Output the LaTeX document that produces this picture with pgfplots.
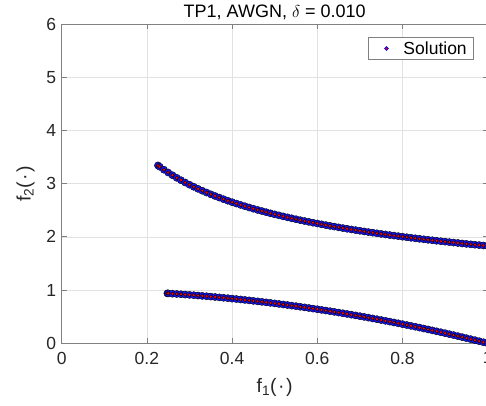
\documentclass[border=0pt]{standalone}
\usepackage{pgfplots}
\usepackage{pgfplotstable}
\pgfplotsset{compat=1.18}
\usepackage{fontspec}
\setmainfont{Liberation Sans}
\definecolor{axgray}{RGB}{128,128,128}
\definecolor{txt}{RGB}{38,38,38}
\definecolor{gridc}{RGB}{225,225,225}
\definecolor{bandblue}{RGB}{20,20,255}
\pgfplotstableread{
x y
0.226 3.342
0.23 3.318
0.24 3.262
0.25 3.209
0.26 3.158
0.27 3.110
0.28 3.065
0.29 3.021
0.30 2.980
0.31 2.941
0.32 2.903
0.33 2.867
0.34 2.833
0.35 2.800
0.36 2.768
0.37 2.738
0.38 2.708
0.39 2.679
0.40 2.652
0.41 2.626
0.42 2.600
0.43 2.576
0.44 2.552
0.45 2.529
0.46 2.506
0.47 2.485
0.48 2.464
0.49 2.443
0.50 2.423
0.51 2.404
0.52 2.385
0.53 2.367
0.54 2.349
0.55 2.331
0.56 2.314
0.57 2.298
0.58 2.282
0.59 2.266
0.60 2.251
0.61 2.236
0.62 2.221
0.63 2.206
0.64 2.193
0.65 2.179
0.66 2.165
0.67 2.152
0.68 2.139
0.69 2.127
0.70 2.115
0.71 2.102
0.72 2.090
0.73 2.079
0.74 2.067
0.75 2.056
0.76 2.045
0.77 2.034
0.78 2.024
0.79 2.013
0.80 2.003
0.81 1.993
0.82 1.983
0.83 1.973
0.84 1.964
0.85 1.954
0.86 1.945
0.87 1.936
0.88 1.927
0.89 1.918
0.90 1.910
0.91 1.901
0.92 1.893
0.93 1.885
0.94 1.876
0.95 1.868
0.96 1.860
0.97 1.853
0.98 1.845
0.99 1.838
1.00 1.830
}\upperdata
\pgfplotstableread{
x y
0.248 0.9385
0.25 0.9375
0.26 0.9324
0.27 0.9271
0.28 0.9216
0.29 0.9159
0.30 0.9100
0.31 0.9039
0.32 0.8976
0.33 0.8911
0.34 0.8844
0.35 0.8775
0.36 0.8704
0.37 0.8631
0.38 0.8556
0.39 0.8479
0.40 0.8400
0.41 0.8319
0.42 0.8236
0.43 0.8151
0.44 0.8064
0.45 0.7975
0.46 0.7884
0.47 0.7791
0.48 0.7696
0.49 0.7599
0.50 0.7500
0.51 0.7399
0.52 0.7296
0.53 0.7191
0.54 0.7084
0.55 0.6975
0.56 0.6864
0.57 0.6751
0.58 0.6636
0.59 0.6519
0.60 0.6400
0.61 0.6279
0.62 0.6156
0.63 0.6031
0.64 0.5904
0.65 0.5775
0.66 0.5644
0.67 0.5511
0.68 0.5376
0.69 0.5239
0.70 0.5100
0.71 0.4959
0.72 0.4816
0.73 0.4671
0.74 0.4524
0.75 0.4375
0.76 0.4224
0.77 0.4071
0.78 0.3916
0.79 0.3759
0.80 0.3600
0.81 0.3439
0.82 0.3276
0.83 0.3111
0.84 0.2944
0.85 0.2775
0.86 0.2604
0.87 0.2431
0.88 0.2256
0.89 0.2079
0.90 0.1900
0.91 0.1719
0.92 0.1536
0.93 0.1351
0.94 0.1164
0.95 0.0975
0.96 0.0784
0.97 0.0591
0.98 0.0396
0.99 0.0199
1.00 0.0000
}\lowerdata
\begin{document}
\begin{tikzpicture}
\useasboundingbox (-61.7pt,-61.7pt) rectangle (424.3pt,343.3pt);
\begin{axis}[
  at={(0,0)}, anchor=south west,
  scale only axis, width=426pt, height=319.3pt,
  xmin=0, xmax=1, ymin=0, ymax=6,
  xtick={0,0.2,0.4,0.6,0.8,1}, ytick={0,1,2,3,4,5,6},
  xticklabels={0,0.2,0.4,0.6,0.8,1},
  grid=major, major grid style={gridc, line width=0.6pt},
  axis line style={axgray, line width=0.8pt},
  tick style={axgray, line width=0.8pt}, tick align=inside,
  major tick length=5pt,
  /pgf/number format/assume math mode=true,
  tick label style={font=\fontsize{17.5}{17.5}\selectfont, text=txt},
  xticklabel style={yshift=-5pt},
  yticklabel style={xshift=-2pt},
  title={TP1, AWGN, $\delta$ = 0.010},
  title style={font=\fontsize{18}{18}\selectfont, text=black, yshift=-5pt},
  xlabel={f\textsubscript{1}(\kern1.5pt·\kern1.5pt)}, ylabel={f\textsubscript{2}(\kern1.5pt·\kern1.5pt)},
  label style={font=\fontsize{19.5}{19.5}\selectfont, text=txt},
  xlabel style={yshift=-7pt},
  ylabel style={yshift=5pt},
  legend style={at={(0.968,0.959)}, anchor=north east, draw=axgray, fill=white,
    font=\fontsize{17.5}{17.5}\selectfont, inner xsep=4pt, inner ysep=2pt, line width=0.7pt,
    nodes={inner xsep=3pt}},
  legend cell align=left,
]
\addlegendimage{legend image code/.code={\path[draw=none] (0pt,0pt) -- (28pt,0pt); \filldraw[draw=blue, fill=red, line width=0.7pt] (14pt,0pt) circle (1.9pt);}}
\addlegendentry{Solution}
\addplot[forget plot, only marks, mark=*, mark size=3.6pt, mark options={draw=none, fill=bandblue}] table {\upperdata};
\addplot[forget plot, only marks, mark=*, mark size=3.6pt, mark options={draw=none, fill=bandblue}] table {\lowerdata};
\addplot[forget plot, only marks, mark=*, mark size=1.75pt, mark options={draw=none, fill=red}] table {\upperdata};
\addplot[forget plot, only marks, mark=*, mark size=1.75pt, mark options={draw=none, fill=red}] table {\lowerdata};
\end{axis}
\end{tikzpicture}
\end{document}
